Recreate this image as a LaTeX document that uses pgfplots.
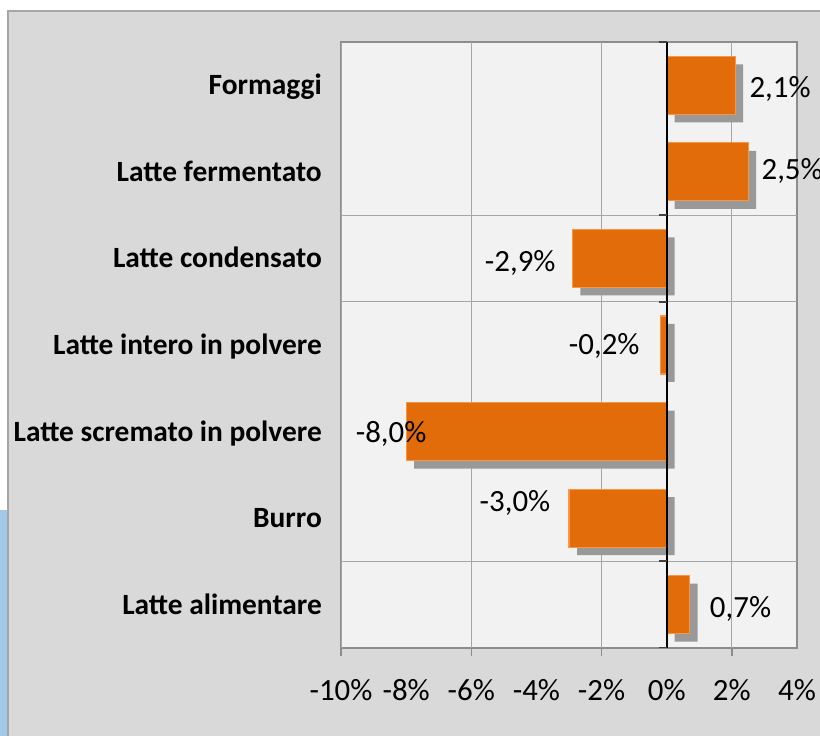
\documentclass[border=0pt]{standalone}
\usepackage{pgfplots}
\pgfplotsset{compat=1.18}
\usepackage{pgfplotstable}
\usepackage{fontspec}
\setmainfont{Carlito}
\usetikzlibrary{patterns,shadows}
\definecolor{outerbg}{HTML}{D9D9D9}
\definecolor{plotbg}{HTML}{F2F2F2}
\definecolor{barfill}{HTML}{E36C0A}
\definecolor{baredge}{HTML}{F79646}
\definecolor{gridc}{HTML}{A6A6A6}
\definecolor{framec}{HTML}{8C8C8C}
\definecolor{bluedeco}{HTML}{A3C9E8}

\pgfplotstableread{
y x label dx dy
6 2.1 2,1\% 45 -2
5 2.5 2,5\% 44 2
4 -2.9 -2,9\% -52 -3
3 -0.2 -0,2\% -56 0
2 -8.0 -8,0\% -15 -1
1 -3.0 -3,0\% -54 17
0 0.7 0,7\% 51 -2.5
}\data

\begin{document}
\begin{tikzpicture}
\useasboundingbox (0,0) rectangle (820bp,736bp);
\clip (0,0) rectangle (820bp,736bp);
\fill[white] (0,0) rectangle (820bp,736bp);
\fill[bluedeco] (0,0) rectangle (8bp,226bp);
\filldraw[fill=outerbg, draw=gridc, line width=1.5bp] (8bp,-5bp) rectangle (830bp,725bp);
\begin{axis}[
  at={(341bp,88bp)}, anchor=south west,
  scale only axis, width=456bp, height=606bp,
  xbar, bar width=58bp,
  xmin=-10, xmax=4, ymin=-0.5, ymax=6.5,
  axis background/.style={fill=plotbg},
  axis line style={draw=framec, line width=1.5bp},
  xtick={-10,-8,...,4},
  xticklabels={-10\%,-8\%,-6\%,-4\%,-2\%,0\%,2\%,4\%},
  major tick length=0pt,
  xtick pos=bottom, ytick pos=left,
  extra x ticks={-10,-6,-2,2},
  extra x tick labels={},
  extra x tick style={major tick length=8bp, tick align=outside, grid=major,
     tick style={draw=framec, line width=1.5bp}},
  major grid style={draw=gridc, line width=1bp},
  ytick={0,...,6},
  yticklabels={Latte alimentare, Burro, Latte scremato in polvere, Latte intero in polvere, Latte condensato, Latte fermentato, Formaggi\ },
  extra y ticks={0.5,3.5,4.5}, extra y tick labels={},
  extra y tick style={grid=major, major tick length=0pt},
  xticklabel style={font=\fontsize{31}{36}\selectfont, anchor=base, yshift=-52bp},
  yticklabel style={font=\bfseries\fontsize{29.5}{34}\selectfont, anchor=east, xshift=-19bp,
     inner sep=0pt, text height=19bp, text depth=0pt},
  point meta=explicit symbolic,
  nodes near coords,
  visualization depends on={\thisrow{dx} \as \dx},
  visualization depends on={\thisrow{dy} \as \dy},
  nodes near coords style={font=\fontsize{31}{36}\selectfont, text=black, anchor=center,
     xshift=\dx bp, yshift=\dy bp, text height=20bp, text depth=0pt, inner sep=0pt},
]
\addplot[fill=barfill, draw=baredge, line width=1.2bp,
  drop shadow={shadow xshift=8bp, shadow yshift=-8bp, opacity=1, draw=none, fill=black!40}]
  table[x=x, y=y, meta=label] {\data};
\draw[black, line width=2bp] (axis cs:0,-0.5) -- (axis cs:0,6.5);
\draw[black!75, line width=2bp] (axis cs:0,-0.5) -- ([xshift=-8bp]axis cs:0,-0.5);
\draw[black!75, line width=2bp] (axis cs:0,0.5) -- ([xshift=-8bp]axis cs:0,0.5);
\draw[black!75, line width=2bp] (axis cs:0,3.5) -- ([xshift=-8bp]axis cs:0,3.5);
\draw[black!75, line width=2bp] (axis cs:0,4.5) -- ([xshift=-8bp]axis cs:0,4.5);
\draw[black!75, line width=2bp] (axis cs:0,6.5) -- ([xshift=-8bp]axis cs:0,6.5);
\end{axis}
\end{tikzpicture}
\end{document}
